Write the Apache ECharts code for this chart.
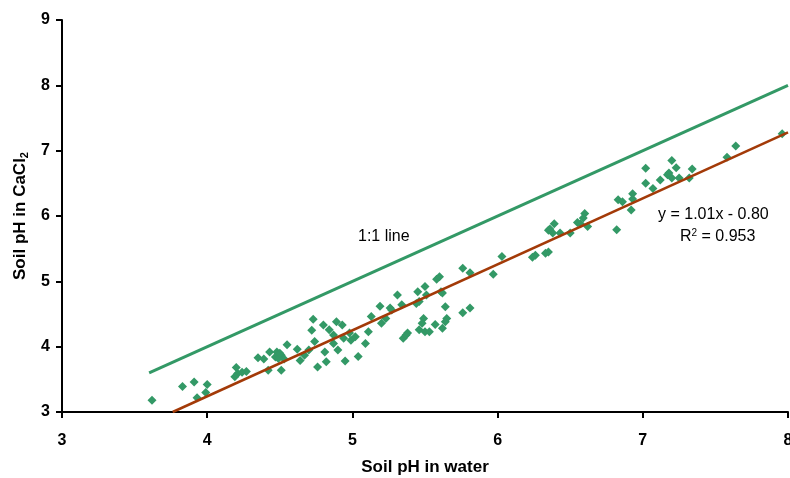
<!DOCTYPE html>
<html>
<head>
<meta charset="utf-8">
<script src="https://cdn.jsdelivr.net/npm/echarts@6/dist/echarts.min.js"></script>
<style>
  html, body { margin: 0; padding: 0; background: #fff; }
  #chart { width: 790px; height: 478px; }
</style>
</head>
<body>
<div id="chart"></div>
<script>
// Soil pH measured in water (x) and in CaCl2 (y) for each sample
const phWater = [
  3.62, 3.83, 3.91, 4.00, 3.99, 3.93, 4.20, 4.21, 4.19, 4.24, 4.27,
  4.35, 4.39, 4.43, 4.48, 4.47, 4.51, 4.53, 4.55, 4.49, 4.42, 4.51,
  4.50, 4.62, 4.64, 4.67, 4.70, 4.73, 4.72, 4.80, 4.74, 4.76, 4.81,
  4.82, 4.84, 4.87, 4.89, 4.93, 4.87, 4.90, 4.94, 4.95, 4.98, 4.99,
  5.02, 5.04, 5.09, 5.11, 5.13, 5.19, 5.20, 5.23, 5.26, 5.31, 5.34,
  5.35, 5.38, 5.76, 5.81, 5.58, 5.60, 5.50, 5.45, 5.51, 5.61, 5.62,
  5.46, 5.44, 5.27, 5.64, 5.81, 5.76, 5.49, 5.48, 5.46, 5.50, 5.57,
  5.65, 5.64, 5.62, 5.37, 5.53, 5.97, 6.03, 6.26, 6.24, 6.35, 6.33,
  6.35, 6.39, 6.43, 6.38, 6.50, 6.55, 6.57, 6.60, 6.59, 6.62, 6.82,
  6.83, 6.86, 6.92, 6.93, 6.93, 7.02, 7.02, 7.07, 7.12, 7.17, 7.20,
  7.18, 7.20, 7.23, 7.25, 7.32, 7.34, 7.58, 7.64, 7.96, 6.36
];
const phCaCl2 = [
  3.18, 3.39, 3.46, 3.42, 3.30, 3.22, 3.68, 3.59, 3.54, 3.61, 3.62,
  3.83, 3.81, 3.92, 3.92, 3.84, 3.87, 3.81, 4.03, 3.82, 3.64, 3.64,
  3.90, 3.96, 3.79, 3.87, 3.95, 4.42, 4.25, 4.33, 4.08, 3.69, 3.92,
  3.77, 4.26, 4.18, 4.38, 4.33, 4.05, 3.95, 4.13, 3.78, 4.21, 4.10,
  4.15, 3.85, 4.05, 4.23, 4.46, 4.62, 4.36, 4.43, 4.59, 4.79, 4.64,
  4.13, 4.21, 5.20, 5.13, 5.03, 5.07, 4.92, 4.84, 4.79, 4.84, 4.82,
  4.69, 4.66, 4.56, 4.61, 4.59, 4.52, 4.43, 4.36, 4.26, 4.23, 4.34,
  4.43, 4.38, 4.28, 4.18, 4.23, 5.11, 5.38, 5.40, 5.37, 5.45, 5.43,
  5.78, 5.88, 5.74, 5.74, 5.74, 5.90, 5.88, 6.04, 5.97, 5.84, 5.79,
  6.25, 6.22, 6.09, 6.26, 6.34, 6.73, 6.50, 6.42, 6.55, 6.63, 6.58,
  6.66, 6.85, 6.74, 6.58, 6.58, 6.72, 6.90, 7.07, 7.26, 5.80
];

// Fitted regression: y = slope * x + intercept
const fitSlope = 1.01;
const fitIntercept = -0.80;
const fitR2 = 0.953;

// Axis ranges and reference line extent
const xRange = [3, 8];
const yRange = [3, 9];
const oneToOneStart = 3.6;

const points = phWater.map((x, i) => [x, phCaCl2[i]]);
const fitStartX = (yRange[0] - fitIntercept) / fitSlope;
const fitLine = [
  [fitStartX, fitSlope * fitStartX + fitIntercept],
  [xRange[1], fitSlope * xRange[1] + fitIntercept]
];
const oneToOne = [[oneToOneStart, oneToOneStart], [xRange[1], xRange[1]]];

const GREEN = '#339966';
const BROWN = '#a33a08';
const FONT = '"Liberation Sans", Arial, sans-serif';

const chart = echarts.init(document.getElementById('chart'), null, { renderer: 'canvas' });

chart.setOption({
  animation: false,
  backgroundColor: '#fff',
  grid: { left: 62, right: 2, top: 20, bottom: 66, containLabel: false, outerBoundsMode: 'none' },
  xAxis: {
    type: 'value',
    min: xRange[0], max: xRange[1], interval: 1,
    name: 'Soil pH in water',
    nameLocation: 'middle',
    nameGap: 47,
    nameTextStyle: { fontFamily: FONT, fontWeight: 'bold', fontSize: 17, color: '#000' },
    axisLine: { show: true, onZero: false, lineStyle: { color: '#000', width: 2 } },
    axisTick: { show: true, inside: false, length: 6, lineStyle: { color: '#000', width: 2 } },
    axisLabel: { fontFamily: FONT, fontWeight: 'bold', fontSize: 16, color: '#000', margin: 21 },
    splitLine: { show: false }
  },
  yAxis: {
    type: 'value',
    min: yRange[0], max: yRange[1], interval: 1,
    name: 'Soil pH in CaCl{sub|2}',
    nameLocation: 'middle',
    nameGap: 30,
    nameRotate: 90,
    nameTextStyle: {
      fontFamily: FONT, fontWeight: 'bold', fontSize: 17, color: '#000',
      rich: {
        sub: { fontFamily: FONT, fontWeight: 'bold', fontSize: 11, color: '#000', padding: [8, 0, 0, 0] }
      }
    },
    axisLine: { show: true, onZero: false, lineStyle: { color: '#000', width: 2 } },
    axisTick: { show: true, inside: false, length: 6, lineStyle: { color: '#000', width: 2 } },
    axisLabel: { fontFamily: FONT, fontWeight: 'bold', fontSize: 16, color: '#000', margin: 12 },
    splitLine: { show: false }
  },
  series: [
    {
      name: '1:1 line',
      type: 'line',
      data: oneToOne,
      symbol: 'none',
      lineStyle: { color: GREEN, width: 3 },
      z: 2
    },
    {
      name: 'samples',
      type: 'scatter',
      data: points,
      symbol: 'diamond',
      symbolSize: 9,
      itemStyle: { color: GREEN, opacity: 1 },
      z: 3
    },
    {
      name: 'fit',
      type: 'line',
      data: fitLine,
      symbol: 'none',
      lineStyle: { color: BROWN, width: 2.5 },
      z: 4
    }
  ],
  graphic: [
    {
      type: 'text', left: 358, top: 229,
      style: { text: '1:1 line', font: '16px ' + FONT, fill: '#000' }
    },
    {
      type: 'text', left: 658, top: 207,
      style: {
        text: 'y = ' + fitSlope.toFixed(2) + 'x - ' + Math.abs(fitIntercept).toFixed(2),
        font: '16px ' + FONT, fill: '#000'
      }
    },
    {
      type: 'text', left: 680, top: 228,
      style: {
        text: 'R{sup|2} = ' + fitR2.toFixed(3),
        font: '16px ' + FONT, fill: '#000',
        rich: { sup: { fontSize: 10, fontFamily: FONT, fill: '#000', padding: [0, 0, 8, 0] } }
      }
    }
  ]
});
</script>
</body>
</html>
